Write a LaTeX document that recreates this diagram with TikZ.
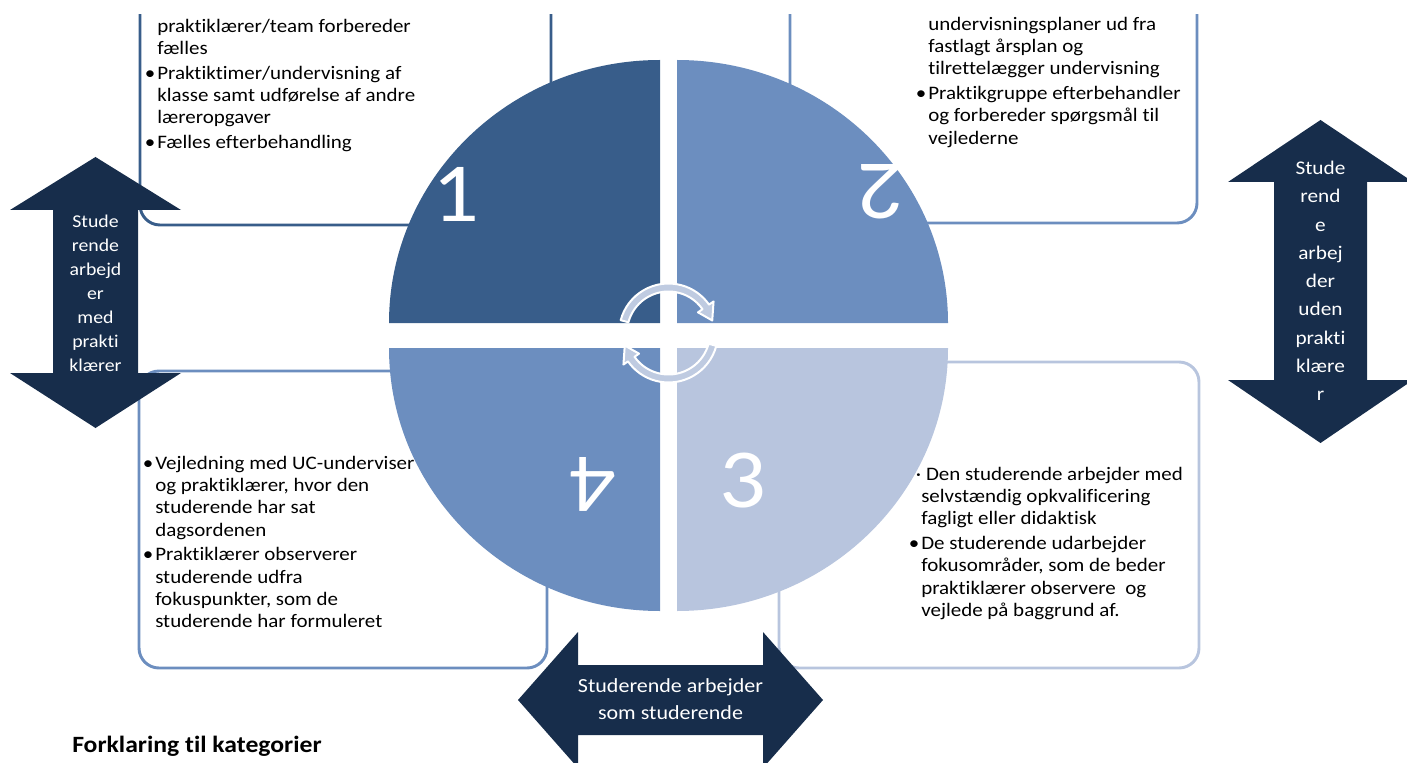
\documentclass[tikz,border=0pt]{standalone}
\usepackage{fontspec}
\setmainfont{Carlito}[FakeStretch=1.1, Ligatures=NoCommon]
\usepackage{xcolor}
\usepackage{tikz}
\definecolor{qdark}{HTML}{385D8A}
\definecolor{qmid}{HTML}{6C8EBF}
\definecolor{qlight}{HTML}{B8C5DE}
\definecolor{navy}{HTML}{172D4B}
\definecolor{cycfill}{HTML}{BFCBE1}

\begin{document}
\begin{tikzpicture}[x=0.75pt, y=0.75pt, yscale=-1,
    box/.style={fill=white, line width=2.2pt, rounded corners=15pt},
    boxtext/.style={anchor=north west, inner sep=0pt, align=left, font=\fontsize{14.3}{16.7}\selectfont},
    arrowtext/.style={text=white, align=center, inner sep=0pt},
    cyc/.style={fill=cycfill, draw=white, line width=1.5pt, line join=round}]
  \useasboundingbox (0,0) rectangle (1407,763);
  \begin{scope}
    \clip (0,15) rectangle (1407,763);
    % boxes
    \draw[box, draw=qdark] (140,-20) rectangle (551,225);
    \draw[box, draw=qmid] (790,-20) rectangle (1197,223);
    \draw[box, draw=qlight] (779,362) rectangle (1199,668);
    \draw[box, draw=qmid] (139,371) rectangle (547,668);
    \node[boxtext] (T1) at (157,16.4) {\strut praktiklærer/team forbereder\\fælles\\[1.9pt]
      \llap{•\hspace{1.5pt}}Praktiktimer/undervisning af\\klasse samt udførelse af andre\\læreropgaver\\[1.9pt]
      \llap{•\hspace{1.5pt}}Fælles efterbehandling};
    \node[boxtext] (T2) at (928,14.4) {\strut undervisningsplaner ud fra\\fastlagt årsplan og\\tilrettelægger undervisning\\[1.9pt]
      \llap{•\hspace{1.5pt}}Praktikgruppe efterbehandler\\og forbereder spørgsmål til\\vejlederne};
    \node[boxtext] (T3) at (921,464.4) {\strut\llap{·}\ Den studerende arbejder med\\selvstændig opkvalificering\\fagligt eller didaktisk\\[1.9pt]
      \llap{•\hspace{1.5pt}}De studerende udarbejder\\fokusområder, som de beder\\praktiklærer observere\ \ og\\vejlede på baggrund af.};
    \node[boxtext] (T4) at (155,453.4) {\strut\llap{•\hspace{1.5pt}}Vejledning med UC-underviser\\og praktiklærer, hvor den\\studerende har sat\\dagsordenen\\[1.9pt]
      \llap{•\hspace{1.5pt}}Praktiklærer observerer\\studerende udfra\\fokuspunkter, som de\\studerende har formuleret};
    % circle
    \fill[qdark] (660,323) -- (389,323) arc[start angle=180, end angle=270, x radius=271, y radius=263] -- cycle;
    \fill[qmid] (677,323) -- (677,60) arc[start angle=270, end angle=360, x radius=271, y radius=263] -- cycle;
    \fill[qlight] (677,348) -- (948,348) arc[start angle=0, end angle=90, x radius=271, y radius=263] -- cycle;
    \fill[qmid] (660,348) -- (660,611) arc[start angle=90, end angle=180, x radius=271, y radius=263] -- cycle;
    \node[text=white, font=\fontsize{63}{63}\selectfont, inner sep=0pt] (N1) at (456,194) {1};
    \node[text=white, font=\fontsize{63}{63}\selectfont, inner sep=0pt, rotate=180] (N2) at (881,192) {2};
    \node[text=white, font=\fontsize{63}{63}\selectfont, inner sep=0pt] (N3) at (743,481) {3};
    \node[text=white, font=\fontsize{63}{63}\selectfont, inner sep=0pt, rotate=180] (N4) at (593,484) {4};
    \begin{scope}[shift={(668.5,333)}]
      \draw[cyc] (-165:49.5) arc[start angle=-165, end angle=-35, radius=49.5] -- (-35:55) -- (-16:45.5)
        -- (-35:36) -- (-35:41.5) arc[start angle=-35, end angle=-165, radius=41.5] -- cycle;
      \draw[cyc] (15:49.5) arc[start angle=15, end angle=145, radius=49.5] -- (145:55) -- (164:45.5)
        -- (145:36) -- (145:41.5) arc[start angle=145, end angle=15, radius=41.5] -- cycle;
    \end{scope}
    % arrows
    \fill[navy] (95.5,157) -- (181,210) -- (138,210) -- (138,373) -- (181,373) -- (95.5,428)
      -- (10,373) -- (53,373) -- (53,210) -- (10,210) -- cycle;
    \fill[navy] (1320.5,120) -- (1413,182) -- (1367,182) -- (1367,380) -- (1413,380) -- (1320.5,443)
      -- (1228,380) -- (1274,380) -- (1274,182) -- (1228,182) -- cycle;
    \fill[navy] (518,700) -- (578,632) -- (578,665) -- (763,665) -- (763,632) -- (823,700)
      -- (763,768) -- (763,735) -- (578,735) -- (578,768) -- cycle;
    \node[arrowtext, font=\fontsize{13.5}{18}\selectfont] (L) at (95.5,293) {Stude\\rende\\arbejd\\er\\med\\prakti\\klærer};
    \node[arrowtext, font=\fontsize{14.5}{21.2}\selectfont] (R) at (1320.5,281) {Stude\\rend\\e\\arbej\\der\\uden\\prakti\\klære\\r};
    \node[arrowtext, font=\fontsize{15}{20}\selectfont] (S) at (670.5,699) {Studerende arbejder\\som studerende};
    \node[anchor=base west, inner sep=0pt, font=\bfseries\fontsize{17.5}{21}\selectfont] (K) at (72,752) {Forklaring til kategorier};
  \end{scope}
\end{tikzpicture}
\end{document}
